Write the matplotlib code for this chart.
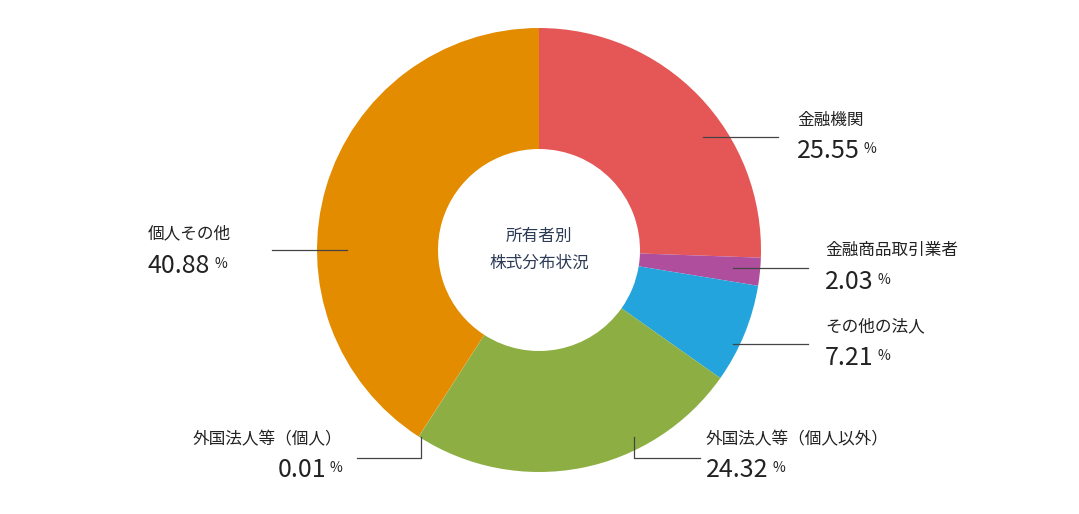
import matplotlib.pyplot as plt

plt.rcParams['font.family'] = ['Noto Sans CJK JP', 'DejaVu Sans']

labels = ['金融機関', '金融商品取引業者', 'その他の法人', '外国法人等（個人以外）', '外国法人等（個人）', '個人その他']
values = [25.55, 2.03, 7.21, 24.32, 0.01, 40.88]
colors = ['#E45756', '#B04E9E', '#23A4DC', '#8DAE42', '#C8C8C8', '#E38C00']
center_title = '所有者別\n株式分布状況'

W, H = 1079, 514
fig = plt.figure(figsize=(W / 100, H / 100), dpi=100)
ax = fig.add_axes([0, 0, 1, 1])

cx, cy, r = 539, H - 250, 222
ax.pie(values, colors=colors, startangle=90, counterclock=False,
       center=(cx, cy), radius=r, wedgeprops=dict(width=r - 101, linewidth=0))
ax.set_xlim(0, W)
ax.set_ylim(0, H)
ax.set_aspect('equal')
ax.axis('off')
ax.text(cx, cy, center_title, ha='center', va='center', fontsize=12,
        color='#2B3A55', linespacing=1.8)

# (leader line path in pixels, text x, label y, value y, align)
layout = [
    ([(703, 137), (778, 137)], 797, 120, 151, 'left'),
    ([(733, 268), (808, 268)], 825, 250, 282, 'left'),
    ([(733, 344), (808, 344)], 825, 327, 358, 'left'),
    ([(634, 437), (634, 458), (700, 458)], 706, 440, 470, 'left'),
    ([(421, 437), (421, 458), (357, 458)], 342, 440, 470, 'right'),
    ([(347, 250), (272, 250)], 148, 234, 266, 'left'),
]

fig.canvas.draw()
renderer = fig.canvas.get_renderer()
for lab, val, (path, tx, ly, vy, align) in zip(labels, values, layout):
    xs = [p[0] for p in path]
    ys = [H - p[1] for p in path]
    ax.plot(xs, ys, color='#444444', lw=0.9)
    ax.text(tx, H - ly, lab, ha=align, va='center', fontsize=12, color='#222222')
    num = ax.text(tx, H - vy, f'{val:.2f}', ha='left', va='center', fontsize=18, color='#222222')
    bb = num.get_window_extent(renderer)
    w = bb.width + 4
    pct_w = 12
    if align == 'right':
        num.set_x(tx - w - pct_w)
        px = tx - pct_w
    else:
        px = tx + w
    ax.text(px, H - vy + 2, '%', ha='left', va='center', fontsize=10, color='#222222')

fig.savefig('out.png', dpi=100)
